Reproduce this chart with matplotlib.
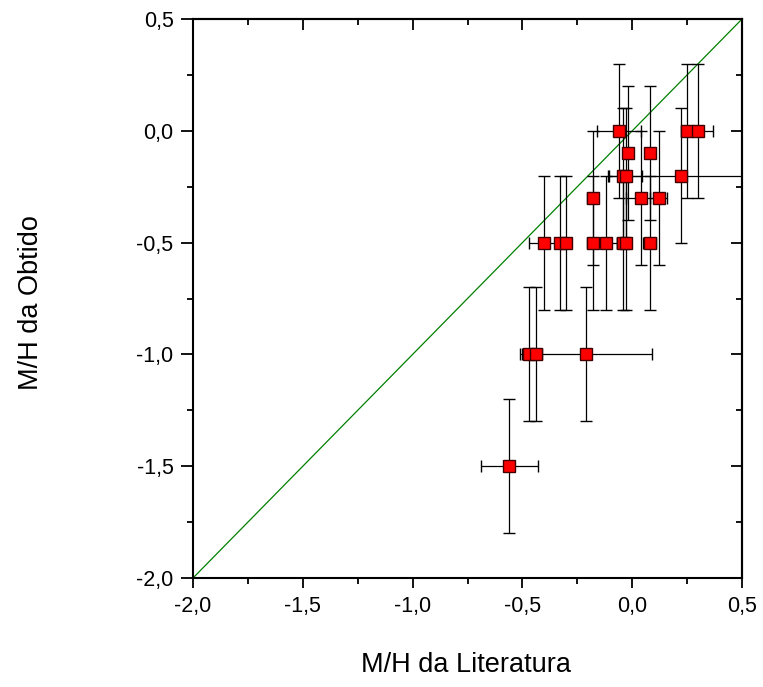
import matplotlib
matplotlib.use("Agg")
import matplotlib.pyplot as plt
from matplotlib.ticker import MultipleLocator, FuncFormatter

plt.rcParams['font.family'] = ['Liberation Sans', 'DejaVu Sans']

# Data: literature M/H (x), obtained M/H (y), and error bars
x_lit = [-0.06, 0.25, 0.30,
         -0.02, 0.08,
         -0.04, -0.03, 0.22,
         -0.18, 0.04, 0.12,
         -0.40, -0.33, -0.30, -0.18, -0.12, -0.04, -0.03, 0.08,
         -0.47, -0.44, -0.21,
         -0.56]
y_obt = [0.0, 0.0, 0.0,
         -0.1, -0.1,
         -0.2, -0.2, -0.2,
         -0.3, -0.3, -0.3,
         -0.5, -0.5, -0.5, -0.5, -0.5, -0.5, -0.5, -0.5,
         -1.0, -1.0, -1.0,
         -1.5]
x_err = [0.10, 0.03, 0.07,
         0.02, 0.02,
         0.02, 0.075, 0.33,
         0.025, 0.07, 0.04,
         0.07, 0.02, 0.02, 0.025, 0.05, 0.03, 0.02, 0.03,
         0.03, 0.03, 0.30,
         0.13]
y_err = [0.3] * len(x_lit)

line_x = [-2.0, 0.5]
line_y = [-2.0, 0.5]

fig = plt.figure(figsize=(7.63, 6.87), dpi=100)
ax = fig.add_axes([0.253, 0.1587, 0.9725 - 0.253, 0.9723 - 0.1587])

ax.plot(line_x, line_y, color='#008000', lw=0.9, zorder=1)
ax.errorbar(x_lit, y_obt, xerr=x_err, yerr=y_err, fmt='s', color='black',
            ecolor='black', elinewidth=0.9, capsize=4.5, capthick=0.9,
            markersize=8, markerfacecolor='#ff0000', markeredgecolor='#400000',
            markeredgewidth=1.0, zorder=3)

ax.set_xlim(-2.0, 0.5)
ax.set_ylim(-2.0, 0.5)
ax.xaxis.set_major_locator(MultipleLocator(0.5))
ax.xaxis.set_minor_locator(MultipleLocator(0.25))
ax.yaxis.set_major_locator(MultipleLocator(0.5))
ax.yaxis.set_minor_locator(MultipleLocator(0.25))
fmt = FuncFormatter(lambda v, p: f"{v:.1f}".replace('.', ',').replace('-0,0', '0,0'))
ax.xaxis.set_major_formatter(fmt)
ax.yaxis.set_major_formatter(fmt)

ax.tick_params(which='both', direction='out', top=False, right=False, width=1.3)
ax.tick_params(which='major', labelsize=15.5)
ax.tick_params(axis='x', which='major', length=7, pad=6)
ax.tick_params(axis='x', which='minor', length=4)
ax.tick_params(axis='y', which='major', length=9, pad=5)
ax.tick_params(axis='y', which='minor', length=4)
# inward ticks on top and right
ax2 = ax.secondary_xaxis('top')
ax2.xaxis.set_major_locator(MultipleLocator(0.5))
ax2.xaxis.set_minor_locator(MultipleLocator(0.25))
ax2.tick_params(which='both', direction='in', labeltop=False, width=1.3)
ax2.tick_params(which='major', length=8)
ax2.tick_params(which='minor', length=4)
ay2 = ax.secondary_yaxis('right')
ay2.yaxis.set_major_locator(MultipleLocator(0.5))
ay2.yaxis.set_minor_locator(MultipleLocator(0.25))
ay2.tick_params(which='both', direction='in', labelright=False, width=1.3)
ay2.tick_params(which='major', length=8)
ay2.tick_params(which='minor', length=4)

for s in ax.spines.values():
    s.set_linewidth(1.5)
ax2.spines['top'].set_linewidth(1.5)
ay2.spines['right'].set_linewidth(1.5)

fig.text(0.611, 0.032, 'M/H da Literatura', fontsize=19.5, ha='center', va='center')
fig.text(0.040, 0.56, 'M/H da Obtido', fontsize=19.5, ha='center', va='center', rotation=90)

fig.savefig('out.png', dpi=100)
